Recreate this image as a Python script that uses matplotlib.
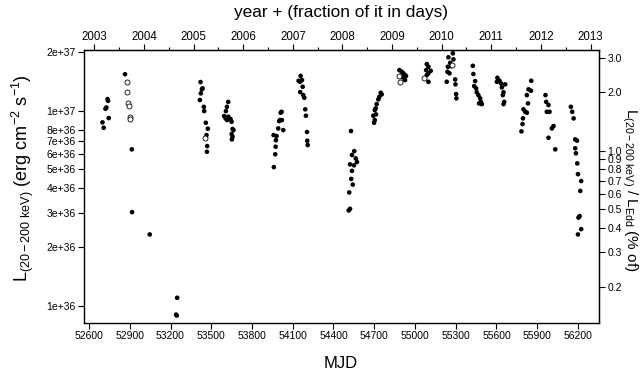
import numpy as np
import matplotlib
matplotlib.use("Agg")
import matplotlib.pyplot as plt
from matplotlib.ticker import FixedLocator, NullLocator

plt.rcParams['font.family'] = ['Liberation Sans', 'DejaVu Sans']
plt.rcParams['mathtext.fontset'] = 'custom'
plt.rcParams['mathtext.rm'] = 'Liberation Sans'
plt.rcParams['mathtext.it'] = 'Liberation Sans'

# ---------------- data (MJD, L in units of 1e36 erg/s) ----------------
mjd_filled = [
    52699, 52708, 52721, 52728, 52736, 52740, 52745,
    52865, 52915, 52917,
    53047,
    53249, 53241, 53246,
    53421, 53431, 53436, 53423, 53416, 53445, 53448, 53460, 53475, 53465, 53470, 53468,
    53625, 53615, 53608, 53595, 53605, 53625, 53642, 53650, 53657, 53664, 53650, 53657, 53652, 53617,
    54018, 54011, 54000, 54006, 54020, 53993, 54030, 53959, 53981, 53976, 53974, 53971, 53961,
    54158, 54143, 54153, 54168, 54173, 54155, 54177, 54185, 54192, 54197, 54205, 54207, 54210,
    54529, 54553, 54536, 54564, 54573, 54551, 54522, 54536, 54531, 54542, 54516, 54522, 54512,
    54748, 54755, 54738, 54730, 54718, 54711, 54704, 54713, 54693, 54704, 54699,
    54885, 54903, 54915, 54927, 54934, 54910, 54927,
    55087, 55099, 55082, 55116, 55099, 55087, 55099,
    55279, 55246, 55259, 55283, 55264, 55242, 55239, 55254, 55234, 55296, 55298, 55303, 55305,
    55426, 55430, 55443, 55436, 55450, 55455, 55467, 55480, 55485, 55472, 55492,
    55607, 55622, 55603, 55633, 55664, 55640, 55652, 55647, 55657, 55652,
    55856, 55836, 55854, 55824, 55832, 55799, 55812, 55824, 55795, 55792, 55784,
    55961, 55966, 55983, 55971, 55991, 56020, 56008, 55983, 56033,
    56148, 56158, 56168, 56180, 56193, 56180, 56185, 56195, 56200, 56224, 56217, 56212, 56204, 56224, 56200,
]
lum_filled = [
    8.72, 8.18, 10.24, 10.4, 11.48, 11.25, 9.17,
    15.4, 6.34, 3.02,
    2.32,
    1.098, 0.90, 0.89,
    14.04, 12.88, 13.03, 12.28, 11.35, 10.48, 9.96, 8.68, 8.09, 7.50, 6.59, 6.16,
    11.1, 10.48, 9.96, 9.39, 9.14, 9.32, 9.07, 8.78, 8.06, 7.96, 7.60, 7.36, 7.13, 8.96,
    9.88, 9.77, 8.85, 8.96, 8.96, 8.12, 7.96, 7.50, 7.42, 7.06, 6.54, 5.98, 5.14,
    15.1, 14.25, 14.08, 14.37, 13.28, 12.47, 12.03, 11.66, 10.17, 9.43, 7.78, 7.02, 6.67,
    7.87, 6.21, 5.93, 5.70, 5.46, 5.25, 5.31, 4.92, 4.47, 4.18, 3.81, 3.14, 3.08,
    12.37, 12.14, 11.80, 11.44, 10.82, 10.29, 10.08, 9.58, 9.43, 8.96, 8.68,
    16.16, 15.85, 15.56, 15.24, 15.07, 14.84, 14.37,
    17.35, 16.81, 16.16, 16.03, 15.56, 15.24, 14.08,
    19.7, 18.8, 17.6, 18.35, 16.95, 16.81, 15.85, 15.56, 14.08, 14.48, 13.66, 12.18, 11.58,
    17.01, 15.43, 14.2, 13.38, 13.03, 12.44, 12.03, 11.58, 11.11, 10.91, 10.82,
    14.76, 14.25, 14.08, 13.82, 13.66, 13.18, 12.44, 12.03, 11.11, 10.82,
    14.25, 12.88, 12.67, 12.03, 10.91, 10.17, 9.88, 9.77, 9.14, 8.55, 7.84,
    12.03, 11.11, 10.7, 9.88, 9.88, 8.35, 8.12, 7.27, 6.34,
    10.48, 9.88, 9.14, 7.13, 7.02, 6.42, 6.05, 5.37, 4.73, 4.36, 3.88, 2.88, 2.83, 2.47, 2.32,
]
mjd_open = [52876, 52880, 52887, 52893, 52900, 52900, 53453, 54885, 54890, 55067, 55271]
lum_open = [14.08, 12.47, 10.99, 10.57, 9.32, 9.03, 7.22, 15.12, 14.03, 14.66, 17.14]

mjd_ticks = [52600, 52900, 53200, 53500, 53800, 54100, 54400, 54700, 55000, 55300, 55600, 55900, 56200]
year_ticks = list(range(2003, 2014))
lum_ticks = [1e36, 2e36, 3e36, 4e36, 5e36, 6e36, 7e36, 8e36, 1e37, 2e37]
lum_labels = ['1e+36', '2e+36', '3e+36', '4e+36', '5e+36', '6e+36', '7e+36', '8e+36', '1e+37', '2e+37']
edd_ticks = [0.2, 0.3, 0.4, 0.5, 0.6, 0.7, 0.8, 0.9, 1.0, 2.0, 3.0]
L_EDD_1PC = 6.25e36   # luminosity that corresponds to 1 on the right axis

# ---------------- plot ----------------
fig = plt.figure(figsize=(6.42, 3.78), dpi=100)
ax = fig.add_axes([84 / 642, 55 / 378, 515 / 642, 273 / 378])

ax.scatter(mjd_filled, np.array(lum_filled) * 1e36, s=11, c='black', edgecolors='none', zorder=3)
ax.scatter(mjd_open, np.array(lum_open) * 1e36, s=13, facecolors='white',
           edgecolors='black', linewidths=0.6, zorder=4)

ax.set_yscale('log')
ax.set_xlim(52563, 56355)
ax.set_ylim(0.815e36, 2.05e37)

ax.xaxis.set_major_locator(FixedLocator(mjd_ticks))
ax.set_xticklabels([str(t) for t in mjd_ticks])
ax.yaxis.set_major_locator(FixedLocator(lum_ticks))
ax.yaxis.set_minor_locator(NullLocator())
ax.set_yticklabels(lum_labels)
ax.tick_params(direction='out', length=4, width=0.8, labelsize=7.5, pad=2)

for s in ax.spines.values():
    s.set_linewidth(1.0)

# top axis: calendar years
def mjd2year(m):
    return 2003 + (np.asarray(m) - 52640) / 365.25

def year2mjd(y):
    return 52640 + (np.asarray(y) - 2003) * 365.25

top = ax.secondary_xaxis('top', functions=(mjd2year, year2mjd))
top.xaxis.set_major_locator(FixedLocator(year_ticks))
top.xaxis.set_minor_locator(FixedLocator([y + 0.5 for y in year_ticks[:-1]]))
top.set_xticklabels([str(y) for y in year_ticks])
top.tick_params(which='major', direction='out', length=4, width=0.8, labelsize=8.3, pad=1)
top.tick_params(which='minor', direction='out', length=2.5, width=0.8)

# right axis: fraction of Eddington
right = ax.secondary_yaxis('right', functions=(lambda v: v / L_EDD_1PC, lambda v: v * L_EDD_1PC))
right.yaxis.set_major_locator(FixedLocator(edd_ticks))
right.yaxis.set_minor_locator(NullLocator())
right.set_yticklabels(['%.1f' % t for t in edd_ticks])
right.tick_params(direction='out', length=4, width=0.8, labelsize=7.5, pad=2)

# axis titles
fig.text(341 / 642, 1 - 13 / 378, 'year + (fraction of it in days)', fontsize=12.4,
         ha='center', va='center')
fig.text(341 / 642, 1 - 364 / 378, 'MJD', fontsize=12, ha='center', va='center')
fig.text(23 / 642, 1 - 178 / 378,
         r'$\mathregular{L_{(20-200\ keV)}\ (erg\ cm^{-2}\ s^{-1})}$',
         fontsize=13, rotation=90, ha='center', va='center')
fig.text(630 / 642, 1 - 190 / 378,
         r'$\mathregular{L_{(20-200\ keV)}\ /\ L_{Edd}\ (\%\ of)}$',
         fontsize=11, rotation=270, ha='center', va='center')

fig.savefig('out.png', dpi=100)
